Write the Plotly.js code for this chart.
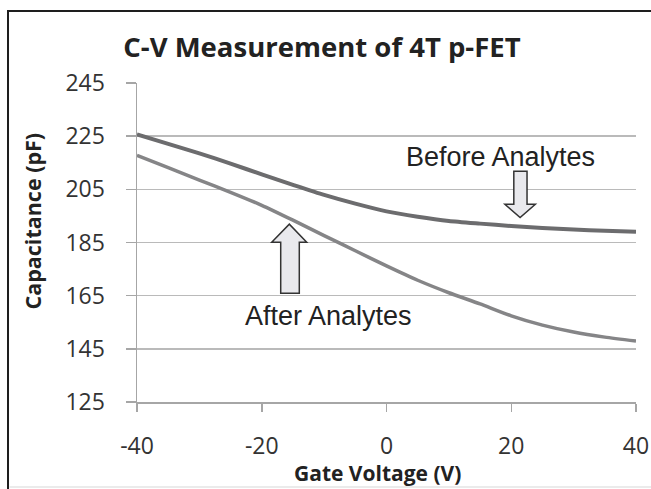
<!DOCTYPE html>
<html>
<head>
<meta charset="utf-8">
<script src="https://cdn.plot.ly/plotly-3.0.1.min.js"></script>
<style>html,body{margin:0;padding:0;background:#fff;}#chart{width:651px;height:489px;}</style>
</head>
<body>
<div id="chart"></div>
<script>
// Gate voltage (V)
const gateVoltage = [-40, -35, -30, -25, -20, -15, -10, -5, 0, 5, 10, 15, 20, 25, 30, 35, 40];
// Capacitance before analytes (pF)
const capBefore = [225.7, 222.1, 218.5, 214.7, 210.6, 206.7, 202.9, 199.6, 196.7, 194.7, 193.1, 192.1, 191.2, 190.5, 189.9, 189.4, 189.0];
// Capacitance after analytes (pF)
const capAfter = [217.8, 213.2, 208.5, 203.9, 199.0, 193.4, 187.6, 181.9, 176.2, 170.8, 166.1, 161.9, 157.4, 153.9, 151.3, 149.4, 147.9];
const xTicks = [-40, -20, 0, 20, 40];
const yTicks = [125, 145, 165, 185, 205, 225, 245];
const seriesNames = ["Before Analytes", "After Analytes"];
const chartTitle = "C-V Measurement of 4T p-FET";
const xTitle = "Gate Voltage (V)";
const yTitle = "Capacitance (pF)";

const traces = [
  {x: gateVoltage, y: capAfter, name: seriesNames[1], type: "scatter", mode: "lines",
   line: {color: "#858587", width: 3.5, shape: "spline", smoothing: 0.6}},
  {x: gateVoltage, y: capBefore, name: seriesNames[0], type: "scatter", mode: "lines",
   line: {color: "#6c6c6e", width: 4, shape: "spline", smoothing: 0.6}}
];

const arrowStyle = {fillcolor: "#e9e9ed", line: {color: "#333333", width: 1.5}, layer: "above"};
const downArrow = "M 20.41 211.8 L 22.53 211.8 L 22.53 199.4 L 23.86 199.4 L 21.42 194.4 L 18.98 199.4 L 20.41 199.4 Z";
const upArrow = "M -16.96 165.9 L -13.98 165.9 L -13.98 185.1 L -12.79 185.1 L -15.58 191.9 L -18.40 185.1 L -16.96 185.1 Z";

const tickFont = {family: "Open Sans, sans-serif", size: 23, color: "#333333"};
const layout = {
  width: 651, height: 489,
  margin: {l: 137, r: 15, t: 83, b: 87, pad: 0},
  paper_bgcolor: "#ffffff", plot_bgcolor: "#ffffff",
  showlegend: false,
  title: {text: chartTitle, font: {family: "Open Sans, sans-serif", size: 27.5, color: "#222222", weight: "bold"},
          x: 0.3707, xref: "paper", xanchor: "center", y: 1 - 47/489, yref: "container", yanchor: "middle"},
  xaxis: {range: [-40, 40], tickvals: xTicks, ticktext: xTicks.map(String), showgrid: false, zeroline: false,
          showline: true, linecolor: "#a6a6a6", linewidth: 1.5, ticks: "outside", ticklen: 8, tickcolor: "#a6a6a6", tickwidth: 1.5,
          tickfont: tickFont, ticklabelstandoff: 15, fixedrange: true},
  yaxis: {range: [125, 245], tickvals: yTicks, ticktext: yTicks.map(String), showgrid: true, gridcolor: "#bababa", gridwidth: 1.5,
          zeroline: false, showline: true, linecolor: "#a6a6a6", linewidth: 1.5, ticks: "outside", ticklen: 10,
          tickcolor: "#a6a6a6", tickwidth: 1.5, tickfont: tickFont, ticklabelstandoff: 16, fixedrange: true},
  annotations: [
    {text: yTitle, xref: "paper", yref: "paper", x: -0.2084, y: 0.5658, textangle: -90, showarrow: false,
     xanchor: "center", yanchor: "middle", font: {family: "Open Sans, sans-serif", size: 21.5, color: "#222222", weight: "bold"}},
    {text: xTitle, xref: "paper", yref: "paper", x: 0.481, y: (402 - 473) / 319, showarrow: false,
     xanchor: "center", yanchor: "middle", font: {family: "Open Sans, sans-serif", size: 21, color: "#222222", weight: "bold"}},
    {text: seriesNames[0], xref: "paper", yref: "paper", x: 0.7275, y: 0.768, showarrow: false,
     xanchor: "center", yanchor: "middle", font: {family: "Liberation Sans, Arial, sans-serif", size: 27, color: "#222222"}},
    {text: seriesNames[1], xref: "paper", yref: "paper", x: 0.3828, y: 0.2696, showarrow: false,
     xanchor: "center", yanchor: "middle", font: {family: "Liberation Sans, Arial, sans-serif", size: 27, color: "#222222"}}
  ],
  shapes: [
    Object.assign({type: "path", xref: "x", yref: "y", path: downArrow}, arrowStyle),
    Object.assign({type: "path", xref: "x", yref: "y", path: upArrow}, arrowStyle),
    {type: "rect", xref: "paper", yref: "paper", x0: -0.2585, y0: -0.307, x1: 1.06, y1: 1.2257,
     line: {color: "#1e1e1e", width: 2}, fillcolor: "rgba(0,0,0,0)", layer: "below"},
    {type: "line", xref: "paper", yref: "paper", x0: -0.2555, y0: -0.2665, x1: 1.06, y1: -0.2665,
     line: {color: "#e4e4e4", width: 1.5}, layer: "below"}
  ]
};
Plotly.newPlot("chart", traces, layout, {staticPlot: true, displayModeBar: false});
</script>
</body>
</html>
